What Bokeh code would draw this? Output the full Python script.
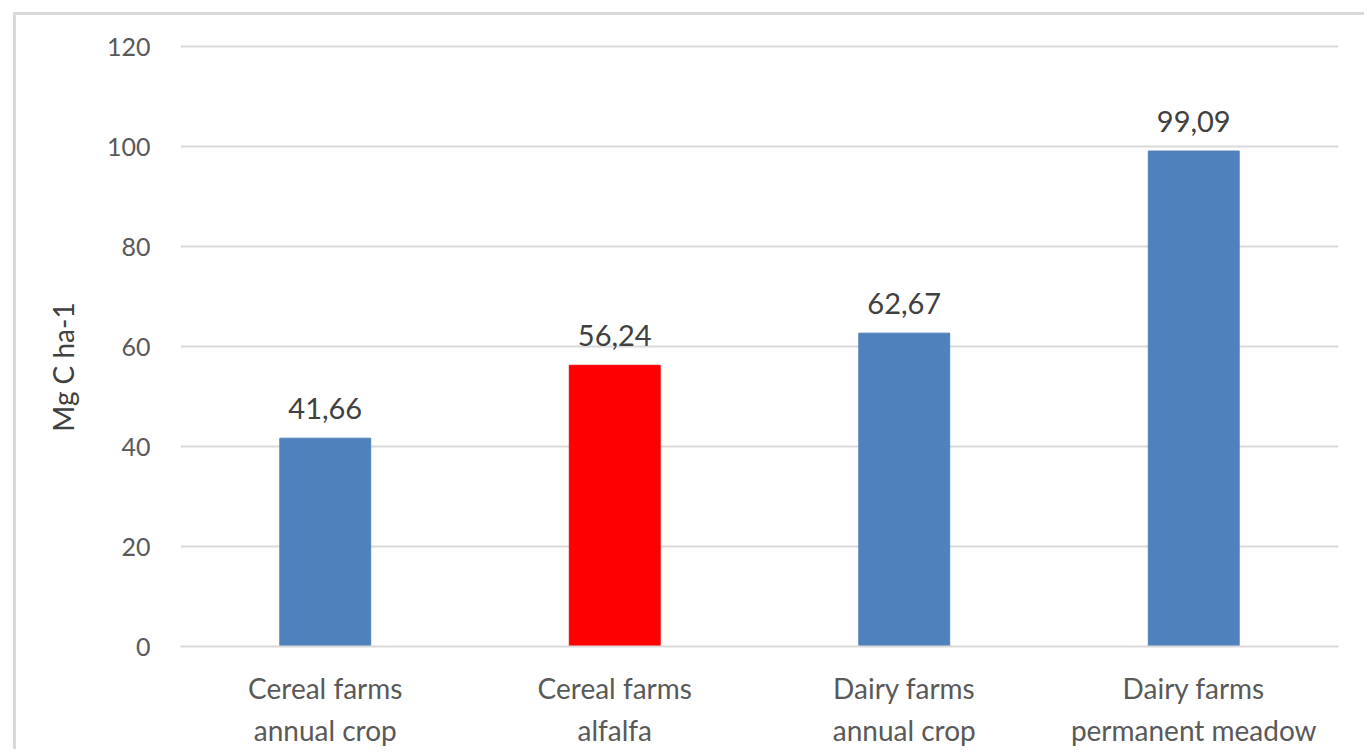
from bokeh.plotting import figure
from bokeh.models import ColumnDataSource, LabelSet, FactorRange, Range1d
from bokeh.core.properties import value
from bokeh.embed import file_html
from bokeh.resources import INLINE

categories = ["Cereal farms\nannual crop", "Cereal farms\nalfalfa", "Dairy farms\nannual crop", "Dairy farms\npermanent meadow"]
values = [41.66, 56.24, 62.67, 99.09]
labels = ["41,66", "56,24", "62,67", "99,09"]
colors = ["#4f81bd", "#ff0000", "#4f81bd", "#4f81bd"]
y_ticks = [0, 20, 40, 60, 80, 100, 120]
y_title = "Mg C ha-1"

src = ColumnDataSource(dict(cat=categories, val=values, lab=labels, col=colors))

# margin 13/12 + border 3 -> canvas origin at (16, 15)
p = figure(width=1351, height=737, x_range=FactorRange(*categories), y_range=Range1d(0, 120.4),
           output_backend="svg", toolbar_location=None,
           min_border_left=164, min_border_right=29, min_border_top=29, min_border_bottom=106,
           styles={"margin-left": "13px", "margin-top": "12px",
                   "border-left": "3px solid #d9d9d9", "border-top": "3px solid #d9d9d9"})
p.outline_line_color = None

p.vbar(x="cat", top="val", width=0.314, color="col", source=src)

p.add_layout(LabelSet(x="cat", y="val", text="lab", source=src, y_offset=19,
                      text_align="center", text_baseline="bottom",
                      text_font=value("Lato"), text_font_size="29px", text_color="#404040"))

p.yaxis.ticker = y_ticks
p.yaxis.axis_line_color = None
p.yaxis.major_tick_line_color = None
p.yaxis.minor_tick_line_color = None
p.yaxis.major_label_text_font = "Lato"
p.yaxis.major_label_text_font_size = "25px"
p.yaxis.major_label_text_color = "#595959"
p.yaxis.major_label_standoff = 24
# trailing no-break spaces shift the rotated title slightly downward, as in the original
p.yaxis.axis_label = y_title + "\u00a0" * 6
p.yaxis.axis_label_text_font = "Lato"
p.yaxis.axis_label_text_font_size = "28px"
p.yaxis.axis_label_text_font_style = "normal"
p.yaxis.axis_label_text_color = "#404040"
p.yaxis.axis_label_standoff = 24

p.xaxis.axis_line_color = "#d9d9d9"
p.xaxis.axis_line_width = 2
p.xaxis.major_tick_line_color = None
p.xaxis.minor_tick_line_color = None
p.xaxis.major_label_text_font = "Lato"
p.xaxis.major_label_text_font_size = "28px"
p.xaxis.major_label_text_color = "#595959"
p.xaxis.major_label_text_line_height = 1.25
p.xaxis.major_label_standoff = 18

p.xgrid.grid_line_color = None
p.ygrid.grid_line_color = "#d9d9d9"
p.ygrid.grid_line_width = 2

open("out.html", "w").write(file_html(p, INLINE))
